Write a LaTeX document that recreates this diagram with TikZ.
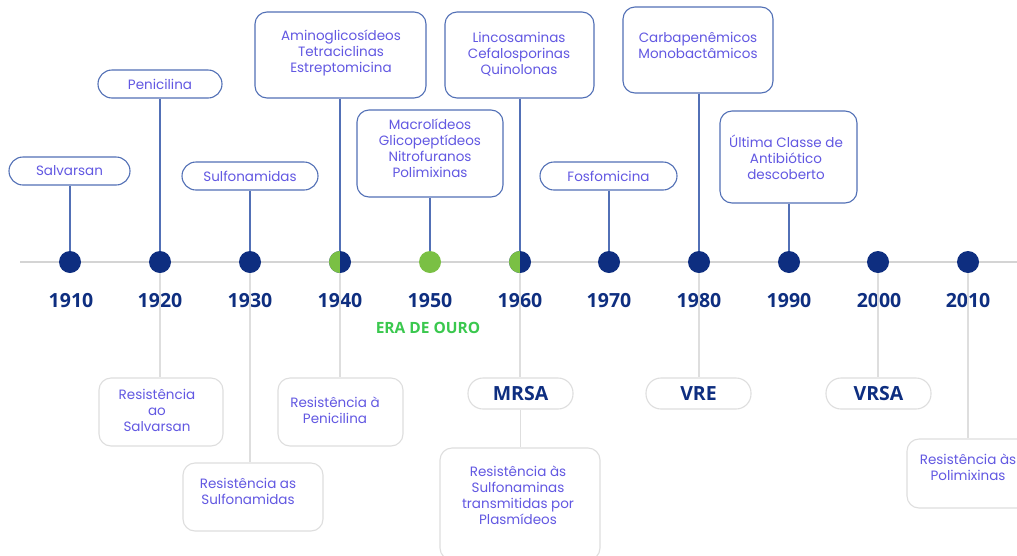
\documentclass[tikz,border=0pt]{standalone}
\usepackage{fontspec}
\setmainfont{Poppins}
\newfontfamily\yearfont{Open Sans}
\definecolor{navy}{RGB}{14,46,128}
\definecolor{dotgreen}{RGB}{122,192,68}
\definecolor{eragreen}{RGB}{58,200,78}
\definecolor{topborder}{RGB}{82,112,182}
\definecolor{lbltext}{RGB}{98,88,226}
\definecolor{axisgray}{RGB}{212,212,212}
\definecolor{botgray}{RGB}{222,222,222}
\begin{document}
\begin{tikzpicture}[x=1pt,y=-1pt,
  lbl/.style={text=lbltext, font=\fontsize{13.5}{16}\selectfont, align=center, inner sep=0pt},
  pill/.style={draw=topborder, line width=1.1pt, rounded corners=14pt, minimum height=28pt, inner sep=0pt, lbl},
  topbox/.style={draw=topborder, line width=1.1pt, rounded corners=12pt, inner sep=0pt},
  botbox/.style={draw=botgray, line width=1.1pt, rounded corners=12pt, inner sep=0pt},
  botpill/.style={draw=botgray, line width=1.1pt, rounded corners=15pt, minimum width=105pt, minimum height=31pt, inner sep=0pt, text=navy, font=\yearfont\bfseries\fontsize{19.5}{22}\selectfont},
  dot/.style={circle, fill=navy, minimum size=22pt, inner sep=0pt},
  gdot/.style={circle, fill=dotgreen, minimum size=22pt, inner sep=0pt},
  halfdot/.style={circle, fill=navy, minimum size=22pt, inner sep=0pt,
    path picture={\fill[dotgreen] (path picture bounding box.south west) rectangle (path picture bounding box.north);}},
  year/.style={text=navy, font=\yearfont\bfseries\fontsize{19.5}{22}\selectfont, inner sep=0pt},
  topline/.style={draw=topborder, line width=1.2pt},
  botline/.style={draw=botgray, line width=1.3pt},
  axis/.style={draw=axisgray, line width=2.4pt}
]
\useasboundingbox (0,0) rectangle (1017,555);
\clip (0,0) rectangle (1017,555);
\fill[white] (0,0) rectangle (1017,555);

% axis
\coordinate (axL) at (20,262);
\coordinate (axR) at (1017,262);
\draw[axis] (axL) -- (axR);

% dots
\node[dot] (d1910) at (70,262) {};
\node[dot] (d1920) at (160,262) {};
\node[dot] (d1930) at (250,262) {};
\node[halfdot] (d1940) at (340,262) {};
\node[gdot] (d1950) at (430,262) {};
\node[halfdot] (d1960) at (520,262) {};
\node[dot] (d1970) at (609,262) {};
\node[dot] (d1980) at (699,262) {};
\node[dot] (d1990) at (789,262) {};
\node[dot] (d2000) at (878,262) {};
\node[dot] (d2010) at (968,262) {};

% years
\node[year] (y1910) at (71,301) {1910};
\node[year] (y1920) at (160,301) {1920};
\node[year] (y1930) at (250,301) {1930};
\node[year] (y1940) at (340,301) {1940};
\node[year] (y1950) at (430,301) {1950};
\node[year] (y1960) at (520,301) {1960};
\node[year] (y1970) at (609,301) {1970};
\node[year] (y1980) at (699,301) {1980};
\node[year] (y1990) at (789,301) {1990};
\node[year] (y2000) at (879,301) {2000};
\node[year] (y2010) at (968,301) {2010};

\node[text=eragreen, font=\yearfont\bfseries\fontsize{15.5}{18}\selectfont, inner sep=0pt] (era) at (428,328) {ERA DE OURO};

% top pills
\node[pill, minimum width=121pt] (salv) at (69.5,171) {Salvarsan};
\node[pill, minimum width=124pt] (peni) at (160,84) {Penicilina};
\node[pill, minimum width=136pt] (sulf) at (250,176) {Sulfonamidas};
\node[pill, minimum width=137pt] (fosf) at (608.5,176) {Fosfomicina};

% top boxes
\node[topbox, minimum width=171pt, minimum height=86pt] (amino) at (340.5,55) {};
\node[lbl] (aminot) at (341,52.5) {Aminoglicosídeos\\Tetraciclinas\\Estreptomicina};
\node[topbox, minimum width=146pt, minimum height=87pt] (macro) at (430,153.5) {};
\node[lbl] (macrot) at (430,148.5) {Macrolídeos\\Glicopeptídeos\\Nitrofuranos\\Polimixinas};
\node[topbox, minimum width=149pt, minimum height=86pt] (linco) at (519.5,55) {};
\node[lbl] (lincot) at (519,54) {Lincosaminas\\Cefalosporinas\\Quinolonas};
\node[topbox, minimum width=150pt, minimum height=86pt] (carba) at (698,50) {};
\node[lbl] (carbat) at (698,45) {Carbapenêmicos\\Monobactâmicos};
\node[topbox, minimum width=137pt, minimum height=92pt] (ultima) at (788.5,157) {};
\node[lbl] (ultimat) at (786,157.5) {Última Classe de\\Antibiótico\\descoberto};

% top connectors
\draw[topline] (salv.south -| d1910.north) -- (d1910.north);
\draw[topline] (peni.south -| d1920.north) -- (d1920.north);
\draw[topline] (sulf.south -| d1930.north) -- (d1930.north);
\draw[topline] (amino.south -| d1940.north) -- (d1940.north);
\draw[topline] (macro.south -| d1950.north) -- (d1950.north);
\draw[topline] (linco.south -| d1960.north) -- (d1960.north);
\draw[topline] (fosf.south -| d1970.north) -- (d1970.north);
\draw[topline] (carba.south -| d1980.north) -- (d1980.north);
\draw[topline] (ultima.south -| d1990.north) -- (d1990.north);

% bottom boxes
\node[botbox, minimum width=124pt, minimum height=68pt] (rsalv) at (161,412) {};
\node[lbl] (rsalvt) at (157,410.5) {Resistência\\ao\\Salvarsan};
\node[botbox, minimum width=140pt, minimum height=68pt] (rsulf) at (253,497) {};
\node[lbl] (rsulft) at (248,491) {Resistência as\\Sulfonamidas};
\node[botbox, minimum width=125pt, minimum height=68pt] (rpeni) at (340.5,412) {};
\node[lbl] (rpenit) at (335,410.5) {Resistência à\\Penicilina};
\node[botpill] (mrsa) at (520.5,393.5) {MRSA};
\node[botbox, minimum width=160pt, minimum height=112pt] (rplas) at (520,504) {};
\node[lbl] (rplast) at (518,495) {Resistência às\\Sulfonaminas\\transmitidas por\\Plasmídeos};
\node[botpill] (vre) at (698.5,393.5) {VRE};
\node[botpill] (vrsa) at (878.5,393.5) {VRSA};
\node[botbox, minimum width=130pt, minimum height=69pt] (rpoli) at (972,473.5) {};
\node[lbl] (rpolit) at (968,467) {Resistência às\\Polimixinas};

% bottom connectors
\draw[botline] (d1920.south) -- (d1920.south |- rsalv.north);
\draw[botline] (d1930.south) -- (d1930.south |- rsulf.north);
\draw[botline] (d1940.south) -- (d1940.south |- rpeni.north);
\draw[botline] (d1960.south) -- (d1960.south |- mrsa.north);
\draw[botline] (mrsa.south) -- (mrsa.south |- rplas.north);
\draw[botline] (d1980.south) -- (d1980.south |- vre.north);
\draw[botline] (d2000.south) -- (d2000.south |- vrsa.north);
\draw[botline] (d2010.south) -- (d2010.south |- rpoli.north);
\end{tikzpicture}
\end{document}
